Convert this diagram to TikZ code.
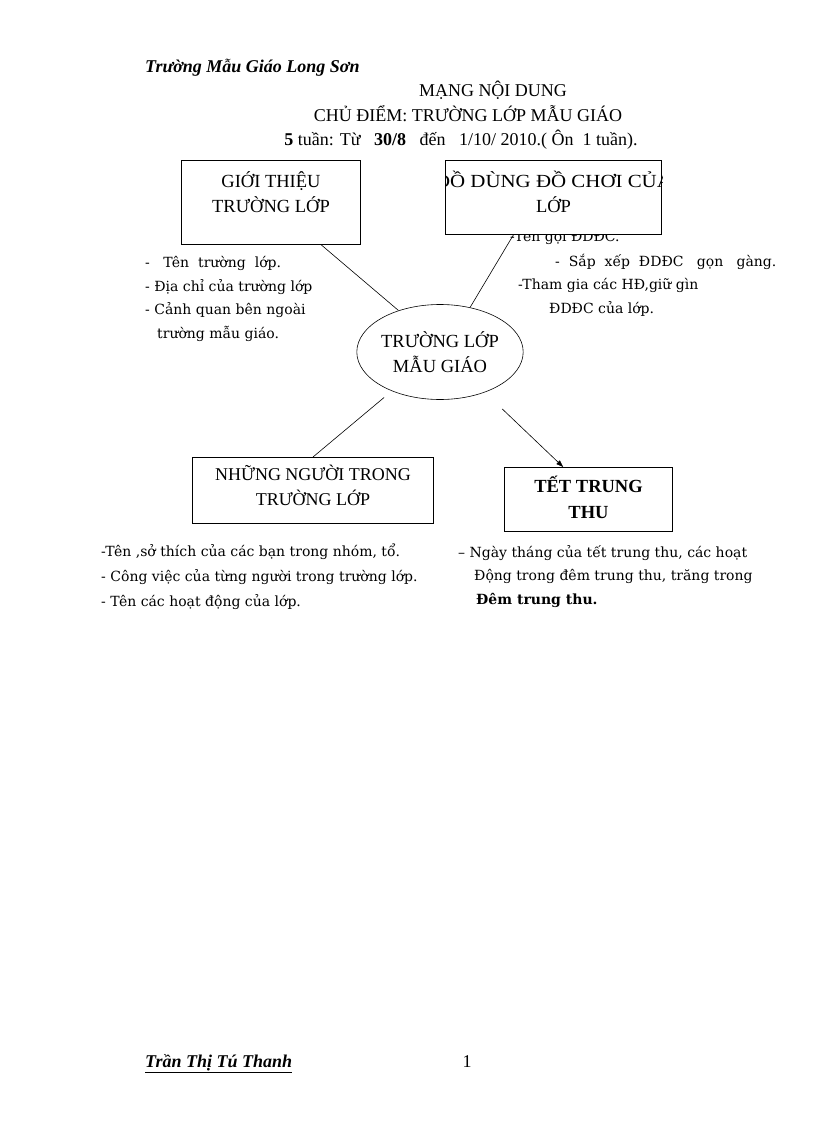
\documentclass[tikz,border=0pt]{standalone}
\usepackage{fontspec}
\setmainfont{Liberation Serif}
\newfontfamily\listfont{DejaVu Serif}
\usetikzlibrary{arrows.meta, calc, shapes.geometric}

\begin{document}
\begin{tikzpicture}[x=1pt, y=-1pt,
    topicbox/.style={draw, line width=1pt, fill=white, inner sep=0pt, anchor=north west},
    boxtext/.style={font=\fontsize{18.5}{25}\selectfont, align=center, inner sep=0pt, anchor=north},
    headtext/.style={font=\fontsize{18}{22}\selectfont, inner sep=0pt, anchor=base},
    listtext/.style={font=\listfont\fontsize{14}{23.5}\selectfont, align=left, inner sep=0pt, anchor=base west},
    link/.style={line width=0.6pt}]
    % Page
    \useasboundingbox[fill=white] (0,0) rectangle (816,1123);

    % Heading
    \node[font=\bfseries\itshape\fontsize{18}{22}\selectfont, inner sep=0pt, anchor=base west] (truong) at (145,73) {Trường Mẫu Giáo Long Sơn};
    \node[headtext] (mang) at (493,97) {MẠNG NỘI DUNG};
    \node[headtext] (chudiem) at (468,122) {CHỦ ĐIỂM: TRƯỜNG LỚP MẪU GIÁO};
    \node[headtext] (tuan) at (461,146) {\textbf{5} tuần: Từ\ \ \ \textbf{30/8}\ \ \ đến\ \ \ 1/10/ 2010.( Ôn\ \ 1 tuần).};

    % Lists (placed by the baseline of their last line)
    \node[listtext] (gioilist) at (145,338) {-\ \ \ Tên\ \ trường\ \ lớp.\\- Địa chỉ của trường lớp\\- Cảnh quan bên ngoài\\\hspace*{12pt}trường mẫu giáo.};
    \node[listtext] (sanlist) at (510,313) {-Tên gọi ĐDĐC.\\[1pt]\hspace*{45pt}-\ \ Sắp\ \ xếp\ \ ĐDĐC\ \ \ gọn\ \ \ gàng.\\\hspace*{8pt}-Tham gia các HĐ,giữ gìn\\\hspace*{39pt}ĐDĐC của lớp.};
    \node[listtext, font=\listfont\fontsize{14}{25}\selectfont] (nguoilist) at (101,606) {-Tên ,sở thích của các bạn trong nhóm, tổ.\\- Công việc của từng người trong trường lớp.\\- Tên các hoạt động của lớp.};
    \node[listtext] (tetlist) at (458,604) {– Ngày tháng của tết trung thu, các hoạt\\\hspace*{16pt}Động trong đêm trung thu, trăng trong\\\hspace*{18pt}\textbf{Đêm trung thu.}};

    % Topic boxes
    \node[topicbox, minimum width=179pt, minimum height=84pt] (gioi) at (181,160) {};
    \node[boxtext] (gioitext) at ($(gioi.north)+(0,11)$) {GIỚI THIỆU\\TRƯỜNG LỚP};

    \node[topicbox, minimum width=216pt, minimum height=74pt] (dodung) at (445,160) {};
    \begin{scope}
        \clip (dodung.south west) rectangle (dodung.north east);
        \node[boxtext] (dodungtext) at ($(dodung.north)+(0,11)$) {\scalebox{1.13}[1]{ĐỒ DÙNG ĐỒ CHƠI CỦA}\\LỚP};
    \end{scope}

    \node[topicbox, minimum width=241pt, minimum height=66pt] (nguoi) at (192,457) {};
    \node[boxtext, font=\fontsize{18}{25}\selectfont] (nguoitext) at ($(nguoi.north)+(0,8)$) {NHỮNG NGƯỜI TRONG\\TRƯỜNG LỚP};

    \node[topicbox, minimum width=168pt, minimum height=64pt] (tet) at (504,467) {};
    \node[boxtext, font=\bfseries\fontsize{18.5}{26}\selectfont] (tettext) at ($(tet.north)+(0,9)$) {TẾT TRUNG\\THU};

    % Centre
    \node[draw, ellipse, line width=0.6pt, minimum width=160pt, minimum height=95pt, inner sep=0pt,
          font=\fontsize{18.5}{25}\selectfont, align=center] (hub) at (440,352) {TRƯỜNG LỚP\\MẪU GIÁO};

    % Connectors
    \draw[link] ($(gioi.south west)!0.78!(gioi.south east)$) -- (hub.135);
    \draw[link] ($(dodung.south west)!0.315!(dodung.south east)$) -- (hub.56);
    \draw[link, shorten <=10pt] (hub.219) -- (nguoi.north);
    \draw[link, -{Triangle[length=7pt, width=5pt]}, shorten <=24pt] (hub.-42) -- ($(tet.north west)!0.35!(tet.north east)$);

    % Footer
    \node[font=\bfseries\itshape\fontsize{18}{22}\selectfont, inner sep=0pt, anchor=base west] (tacgia) at (145,1067) {\underline{Trần Thị Tú Thanh}};
    \node[headtext] (trang) at (467,1067) {1};
\end{tikzpicture}
\end{document}
